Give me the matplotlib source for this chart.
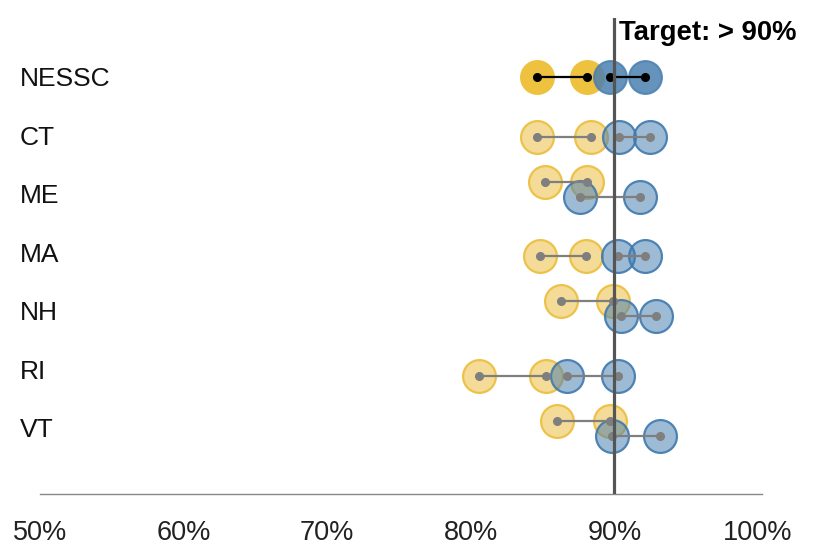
import matplotlib
matplotlib.use("Agg")
import matplotlib.pyplot as plt
import matplotlib.transforms as mtransforms
import numpy as np

categories = ["NESSC", "CT", "ME", "MA", "NH", "RI", "VT"]
yellow_lo = [84.6, 84.6, 85.15, 84.8, 86.3, 80.6, 86.0]
yellow_hi = [88.1, 88.4, 88.1, 88.05, 89.9, 85.25, 89.7]
blue_lo = [89.7, 90.3, 87.6, 90.25, 90.45, 86.7, 89.8]
blue_hi = [92.1, 92.5, 91.75, 92.1, 92.9, 90.25, 93.2]
target = 90
xticks = [50, 60, 70, 80, 90, 100]
xtick_labels = ["50%", "60%", "70%", "80%", "90%", "100%"]

FONT = "Liberation Sans"
plt.rcParams["font.family"] = [FONT, "DejaVu Sans"]

W, H = 814, 546
fig = plt.figure(figsize=(W / 100, H / 100), dpi=100)
ax_left, ax_right, ax_top, ax_bot = 40, 762, 18, 494
ax = fig.add_axes([ax_left / W, 1 - ax_bot / H, (ax_right - ax_left) / W, (ax_bot - ax_top) / H])

ax.set_xlim(50, 100.28)
ax.set_ylim(6.973, -0.987)

YEL = "#EBB830"
BLU = "#3F79AD"
s_big = 560

for i, cat in enumerate(categories):
    main = (i == 0)
    overlap = (blue_lo[i] - yellow_hi[i]) < 1.0
    y_b = i
    y_y = i - 0.25 if overlap else i
    if main:
        ax.scatter([yellow_lo[i], yellow_hi[i]], [y_y, y_y], s=s_big, color="#EEC13F",
                   edgecolors="#EEC13F", linewidths=1.5, zorder=2)
        ax.scatter([blue_lo[i], blue_hi[i]], [y_b, y_b], s=s_big, color="#4A80B0", alpha=0.85,
                   edgecolors="#4A80B0", linewidths=1.5, zorder=2.1)
        lc = "black"
    else:
        ax.scatter([yellow_lo[i], yellow_hi[i]], [y_y, y_y], s=s_big,
                   facecolors=matplotlib.colors.to_rgba(YEL, 0.5),
                   edgecolors=matplotlib.colors.to_rgba("#EBBE3C", 0.9), linewidths=1.6, zorder=2)
        ax.scatter([blue_lo[i], blue_hi[i]], [y_b, y_b], s=s_big,
                   facecolors=matplotlib.colors.to_rgba(BLU, 0.5),
                   edgecolors=matplotlib.colors.to_rgba(BLU, 0.9), linewidths=1.6, zorder=2.1)
        lc = "#7f7f7f"
    ax.plot([yellow_lo[i], yellow_hi[i]], [y_y, y_y], color=lc, lw=1.6, zorder=3,
            marker="o", markersize=5.5, solid_capstyle="butt")
    ax.plot([blue_lo[i], blue_hi[i]], [y_b, y_b], color=lc, lw=1.6, zorder=3,
            marker="o", markersize=5.5, solid_capstyle="butt")

ax.axvline(target, ymin=0, ymax=1, color="#555555", lw=2.3, zorder=5)
ax.text(target + 0.35, -0.74, "Target: > 90%", fontsize=19.8, fontweight="bold",
        ha="left", va="center", color="black", clip_on=False)

trans = mtransforms.blended_transform_factory(fig.transFigure, ax.transData)
for i, cat in enumerate(categories):
    ax.text(20 / W, (58.5 * i + 2.4) / 59.8, cat, transform=trans, fontsize=19, ha="left",
            va="center", color="#111111")

for sp in ["top", "left", "right"]:
    ax.spines[sp].set_visible(False)
ax.spines["bottom"].set_color("#888888")
ax.spines["bottom"].set_linewidth(1.0)
ax.set_yticks([])
ax.set_xticks(xticks)
ax.set_xticklabels(xtick_labels, fontsize=19.5, color="#222222")
ax.tick_params(axis="x", length=0, pad=19)

fig.savefig("out.png", dpi=100)
